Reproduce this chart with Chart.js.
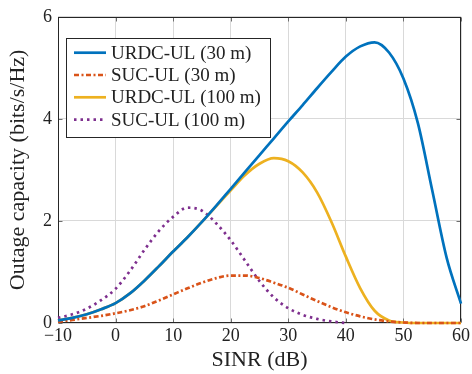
<!DOCTYPE html>
<html lang="en">
<head>
  <meta charset="UTF-8" />
  <title>Outage capacity vs SINR</title>
  <script src="https://cdn.jsdelivr.net/npm/chart.js@4"></script>
  <style>
    html, body { margin: 0; padding: 0; background: #fff; }
  </style>
</head>
<body>
  <canvas id="capChart" width="472" height="374"></canvas>

  <script>
    // SINR sweep (dB) and outage capacity (bits/s/Hz) for each scheme
    const sinr = [-10, -7.5, -5, -2.5, 0, 2.5, 5, 7.5, 10, 12.5, 15, 17.5, 20, 22.5, 25,
                  27.5, 30, 32.5, 35, 37.5, 40, 42.5, 45, 47.5, 50, 52.5, 55, 57.5, 60];
    const urdc30  = [0.05, 0.1, 0.17, 0.27, 0.39, 0.58, 0.83, 1.11, 1.4, 1.68, 1.98, 2.3, 2.63, 2.96, 3.29,
                     3.62, 3.95, 4.27, 4.6, 4.92, 5.22, 5.42, 5.5, 5.3, 4.79, 3.92, 2.6, 1.28, 0.38];
    const suc30   = [0.02, 0.06, 0.1, 0.14, 0.19, 0.25, 0.33, 0.44, 0.56, 0.68, 0.79, 0.88, 0.93, 0.93, 0.88,
                     0.79, 0.69, 0.56, 0.43, 0.31, 0.21, 0.13, 0.07, 0.03, 0.01, 0, 0, 0, 0];
    const urdc100 = [0.05, 0.1, 0.17, 0.27, 0.39, 0.58, 0.83, 1.11, 1.4, 1.68, 1.98, 2.29, 2.6, 2.9, 3.12,
                     3.23, 3.17, 2.95, 2.56, 1.98, 1.3, 0.68, 0.24, 0.05, 0.01, 0, 0, 0, 0];
    const suc100  = [0.1, 0.17, 0.28, 0.45, 0.67, 1.02, 1.43, 1.8, 2.08, 2.26, 2.2, 1.95, 1.62, 1.22, 0.82,
                     0.5, 0.29, 0.16, 0.08, 0.03, 0, null, null, null, null, null, null, null, null];

    const labels = ['URDC-UL (30 m)', 'SUC-UL (30 m)', 'URDC-UL (100 m)', 'SUC-UL (100 m)'];
    const xTicks = [-10, 0, 10, 20, 30, 40, 50, 60];
    const yTicks = [0, 2, 4, 6];

    const toPoints = vals => sinr.map((x, i) => ({ x: x, y: vals[i] })).filter(p => p.y !== null);

    Chart.defaults.font.family = "'Liberation Serif', 'Times New Roman', serif";
    Chart.defaults.color = '#222';

    // box round the plot plus inward tick marks on all four sides
    const frame = {
      id: 'frame',
      beforeDatasetsDraw(chart) {
        const { ctx, chartArea: a, scales: { x, y } } = chart;
        const L = Math.round(a.left) + 0.5, R = Math.round(a.right) - 0.5;
        const T = Math.round(a.top) + 0.5, B = Math.round(a.bottom) - 0.5;
        ctx.save();
        ctx.lineWidth = 1;
        ctx.strokeStyle = '#6e6e6e';
        ctx.beginPath();
        xTicks.forEach(v => {
          const px = Math.round(x.getPixelForValue(v)) + 0.5;
          ctx.moveTo(px, B); ctx.lineTo(px, B - 4);
          ctx.moveTo(px, T); ctx.lineTo(px, T + 4);
        });
        yTicks.forEach(v => {
          const py = Math.round(y.getPixelForValue(v)) + 0.5;
          ctx.moveTo(L, py); ctx.lineTo(L + 4, py);
          ctx.moveTo(R, py); ctx.lineTo(R - 4, py);
        });
        ctx.stroke();
        ctx.strokeStyle = '#262626';
        ctx.strokeRect(L, T, R - L, B - T);
        ctx.restore();
      }
    };

    // legend drawn inside the plot, top left
    const insideLegend = {
      id: 'insideLegend',
      afterDatasetsDraw(chart) {
        const { ctx } = chart;
        const box = { x: 66.5, y: 38.5, w: 204, h: 99 };
        ctx.save();
        ctx.fillStyle = '#fff';
        ctx.fillRect(box.x, box.y, box.w, box.h);
        ctx.strokeStyle = '#262626';
        ctx.lineWidth = 1;
        ctx.strokeRect(box.x, box.y, box.w, box.h);
        ctx.font = "19px 'Liberation Serif', 'Times New Roman', serif";
        ctx.textBaseline = 'middle';
        chart.data.datasets.forEach((ds, i) => {
          const rowY = 52.7 + i * 22.3;
          ctx.strokeStyle = ds.borderColor;
          ctx.lineWidth = ds.borderWidth;
          ctx.setLineDash(ds.borderDash || []);
          ctx.beginPath();
          ctx.moveTo(74, rowY);
          ctx.lineTo(106, rowY);
          ctx.stroke();
          ctx.setLineDash([]);
          ctx.fillStyle = '#222';
          ctx.fillText(ds.label, 111, rowY + 1);
        });
        ctx.restore();
      }
    };

    new Chart(document.getElementById('capChart'), {
      type: 'line',
      data: {
        datasets: [
          { label: labels[0], data: toPoints(urdc30), borderColor: '#0072BD', borderWidth: 2.7 },
          { label: labels[1], data: toPoints(suc30), borderColor: '#D95319', borderWidth: 2.7, borderDash: [5, 2.5, 2, 2.5] },
          { label: labels[2], data: toPoints(urdc100), borderColor: '#EDB120', borderWidth: 2.7 },
          { label: labels[3], data: toPoints(suc100), borderColor: '#7E2F8E', borderWidth: 2.7, borderDash: [2.5, 4] }
        ]
      },
      options: {
        responsive: false,
        animation: false,
        layout: { padding: { top: 14, right: 11, left: 0, bottom: 0 } },
        elements: {
          point: { radius: 0 },
          line: { cubicInterpolationMode: 'monotone', fill: false, borderCapStyle: 'butt' }
        },
        datasets: { line: { clip: false } },
        plugins: { legend: { display: false }, tooltip: { enabled: false } },
        scales: {
          x: {
            type: 'linear',
            min: -10,
            max: 60,
            afterBuildTicks: s => { s.ticks = xTicks.map(v => ({ value: v })); },
            afterFit: s => { s.height = 51; },
            ticks: {
              padding: 2,
              font: { size: 18 },
              callback: v => v < 0 ? '\u2212' + Math.abs(v) : String(v)
            },
            grid: { color: '#d9d9d9', drawTicks: false },
            border: { display: false },
            title: { display: true, text: 'SINR (dB)', font: { size: 22 }, padding: { top: 0, bottom: 1 } }
          },
          y: {
            min: 0,
            max: 6,
            afterBuildTicks: s => { s.ticks = yTicks.map(v => ({ value: v })); },
            afterFit: s => { s.width = 58; },
            ticks: { padding: 6, font: { size: 18 } },
            grid: { color: '#d9d9d9', drawTicks: false },
            border: { display: false },
            title: { display: true, text: 'Outage capacity (bits/s/Hz)', font: { size: 22 }, padding: { top: 5, bottom: 0 } }
          }
        }
      },
      plugins: [frame, insideLegend]
    });
  </script>
</body>
</html>
